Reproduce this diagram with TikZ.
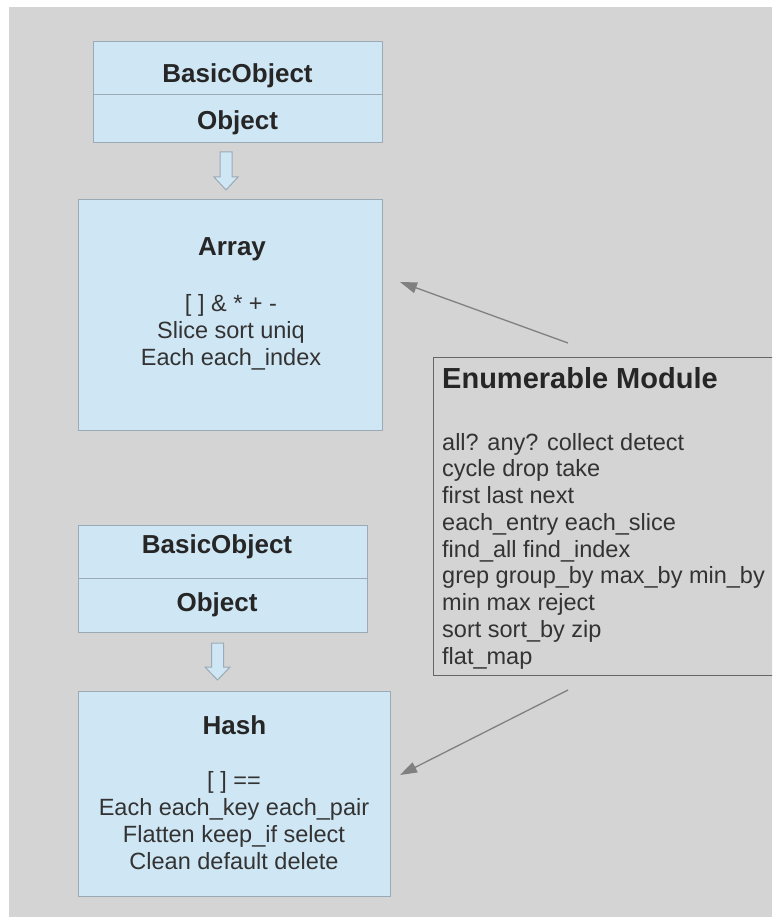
\documentclass[tikz,border=0pt]{standalone}
\usepackage{fontspec}
\setmainfont{Liberation Sans}
\usetikzlibrary{arrows.meta,calc}
\definecolor{bg}{HTML}{D4D4D4}
\definecolor{boxfill}{HTML}{CFE6F4}
\definecolor{boxedge}{HTML}{9BAAB5}
\definecolor{ink}{HTML}{262626}
\definecolor{bodyink}{HTML}{333333}
\definecolor{enumedge}{HTML}{666666}
\definecolor{linkgray}{HTML}{808080}
\tikzset{
  cell/.style={draw=boxedge, fill=boxfill, line width=1.2pt, inner sep=0pt, anchor=north west},
  enumbox/.style={draw=enumedge, fill=bg, line width=1.3pt, inner sep=0pt, anchor=north west},
  titletext/.style={inner sep=0pt, anchor=base, text=ink, font=\fontsize{26}{30}\selectfont\bfseries},
  enumtitle/.style={inner sep=0pt, anchor=base west, text=ink, font=\fontsize{29}{33}\selectfont\bfseries},
  bodytext/.style={inner sep=0pt, anchor=base, text=bodyink, font=\fontsize{23.5}{27}\selectfont},
  enumtext/.style={inner sep=0pt, anchor=base west, text=bodyink, font=\fontsize{23.5}{27}\selectfont},
  blockarrow/.style={draw=boxedge, fill=boxfill, line width=1pt, line join=miter},
  link/.style={draw=linkgray, line width=1.3pt, -{Triangle[length=17pt,width=11pt]}}
}
\begin{document}
\begin{tikzpicture}[x=1pt,y=-1pt]
\clip (0,0) rectangle (772,917);
\fill[white] (0,0) rectangle (772,917);
\fill[bg] (9,7) rectangle (772,917);

% ---- Array group ----
\node[cell, minimum width=289pt, minimum height=53pt] (bo1) at (93,41) {};
\node[cell, minimum width=289pt, minimum height=48pt] (ob1) at (93,94) {};
\node[titletext] (bo1t) at (237.5,82.5) {BasicObject};
\node[titletext] (ob1t) at (237.5,130) {Object};

\draw[blockarrow] (220,152) -- (232,152) -- (232,177) -- (238,177) -- (226,190)
  -- (214,177) -- (220,177) -- cycle;

\node[cell, minimum width=304pt, minimum height=231pt] (arr) at (78,199) {};
\node[titletext] (arrt) at (232,255) {Array};
\foreach \t [count=\i] in {{[ ] \& * + -}, {Slice sort uniq}, {Each each\_index}}
  \node[bodytext] (arrl\i) at (231,{311+27*(\i-1)}) {\t};

% ---- Hash group ----
\node[cell, minimum width=289pt, minimum height=53pt] (bo2) at (78,525) {};
\node[cell, minimum width=289pt, minimum height=54pt] (ob2) at (78,578) {};
\node[titletext] (bo2t) at (217,553.3) {BasicObject};
\node[titletext] (ob2t) at (217,611.7) {Object};

\draw[blockarrow] (211.5,643) -- (223.5,643) -- (223.5,667) -- (230,667) -- (217.5,680)
  -- (205,667) -- (211.5,667) -- cycle;

\node[cell, minimum width=312pt, minimum height=205pt] (hash) at (78,691) {};
\node[titletext] (hasht) at (234.5,734) {Hash};
\foreach \t [count=\i] in {{[ ] ==}, {Each each\_key each\_pair}, {Flatten keep\_if select}, {Clean default delete}}
  \node[bodytext] (hashl\i) at (234,{788+27*(\i-1)}) {\t};

% ---- Enumerable module ----
\node[enumbox, minimum width=377pt, minimum height=318pt] (enum) at (433,357) {};
\node[enumtitle] (enumt) at (442,388) {Enumerable Module};
\foreach \t [count=\i] in {{all? any? collect detect}, {cycle drop take}, {first last next},
  {each\_entry each\_slice}, {find\_all find\_index}, {grep group\_by max\_by min\_by},
  {min max reject}, {sort sort\_by zip}, {flat\_map}}
  \node[enumtext] (enuml\i) at (442,{450+26.75*(\i-1)}) {\t};

% ---- links ----
\coordinate (s1) at (568,343);
\coordinate (e1) at (400,282);
\coordinate (s2) at (568,690);
\coordinate (e2) at (400,775);
\draw[link] (s1) -- (e1);
\draw[link] (s2) -- (e2);
\end{tikzpicture}
\end{document}
